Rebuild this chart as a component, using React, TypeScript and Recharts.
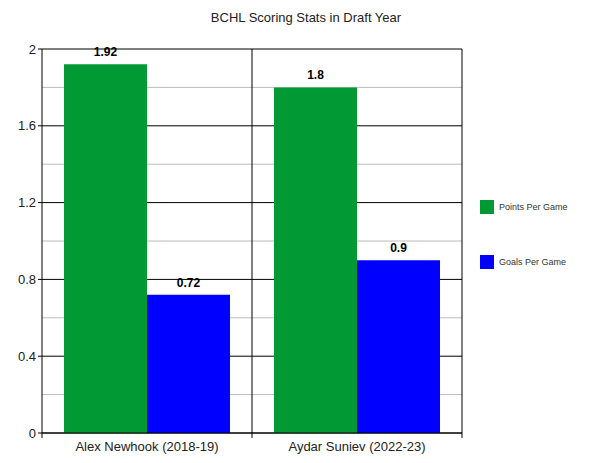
import { BarChart, Bar, XAxis, YAxis, CartesianGrid, ReferenceLine, LabelList } from 'recharts';

const players = ['Alex Newhook (2018-19)', 'Aydar Suniev (2022-23)'];
const pointsPerGame = [1.92, 1.8];
const goalsPerGame = [0.72, 0.9];
const yTicks = [0, 0.4, 0.8, 1.2, 1.6, 2];
const minorLines = [0.2, 0.6, 1.0, 1.4, 1.8];

const GREEN = '#009933';
const BLUE = '#0000ff';
const FONT = 'Arial, "Liberation Sans", sans-serif';

const data = players.map((name, i) => ({
  name,
  points: pointsPerGame[i],
  goals: goalsPerGame[i],
}));

function CategoryTick(props: any) {
  const { x, y, payload, index, visibleTicksCount } = props;
  const half = payload.offset || 0;
  const top = y - 8;
  return (
    <g>
      <line x1={x - half} x2={x - half} y1={top} y2={top + 5} stroke="#000" />
      {index === visibleTicksCount - 1 && (
        <line x1={x + half} x2={x + half} y1={top} y2={top + 5} stroke="#000" />
      )}
      <text x={x} y={top + 18} textAnchor="middle" fontSize={13} fill="#222" fontFamily={FONT}>
        {payload.value}
      </text>
    </g>
  );
}

export default function App() {
  return (
    <div style={{ position: 'absolute', left: 0, top: 0, width: 600, height: 463, background: '#fff', fontFamily: FONT }}>
      <div style={{ position: 'absolute', top: 10, left: 0, width: 612, textAlign: 'center', fontSize: 13, color: '#222' }}>
        BCHL Scoring Stats in Draft Year
      </div>
      <BarChart
        width={600}
        height={463}
        data={data}
        margin={{ top: 49, right: 138, bottom: 0, left: 0 }}
        barCategoryGap={22}
        barGap={0}
      >
        <CartesianGrid horizontalValues={minorLines} vertical={false} stroke="#bbbbbb" strokeDasharray="" />
        <CartesianGrid horizontalValues={yTicks} vertical={false} stroke="#000" strokeDasharray="" />
        <ReferenceLine x={players[1]} position="start" stroke="#000" ifOverflow="visible" />
        <ReferenceLine x={players[1]} position="end" stroke="#000" ifOverflow="visible" />
        <XAxis
          dataKey="name"
          height={30}
          axisLine={{ stroke: '#000' }}
          tickLine={false}
          tick={<CategoryTick />}
          interval={0}
        />
        <YAxis
          width={42}
          domain={[0, 2]}
          ticks={yTicks}
          tickFormatter={(v) => String(v)}
          axisLine={{ stroke: '#000' }}
          tickLine={{ stroke: '#000' }}
          tickSize={4}
          tick={{ fontSize: 13, fill: '#222', fontFamily: FONT }}
        />
        <Bar dataKey="points" fill={GREEN} isAnimationActive={false}>
          <LabelList dataKey="points" position="top" offset={8} fontSize={12} fontWeight="bold" fill="#000" fontFamily={FONT} />
        </Bar>
        <Bar dataKey="goals" fill={BLUE} isAnimationActive={false}>
          <LabelList dataKey="goals" position="top" offset={8} fontSize={12} fontWeight="bold" fill="#000" fontFamily={FONT} />
        </Bar>
      </BarChart>
      <div style={{ position: 'absolute', left: 480, top: 200, fontSize: 9, color: '#333' }}>
        <div style={{ display: 'flex', alignItems: 'center', height: 14 }}>
          <span style={{ display: 'inline-block', width: 14, height: 14, background: GREEN, marginRight: 5 }} />
          Points Per Game
        </div>
        <div style={{ display: 'flex', alignItems: 'center', height: 14, marginTop: 41 }}>
          <span style={{ display: 'inline-block', width: 14, height: 14, background: BLUE, marginRight: 5 }} />
          Goals Per Game
        </div>
      </div>
    </div>
  );
}
